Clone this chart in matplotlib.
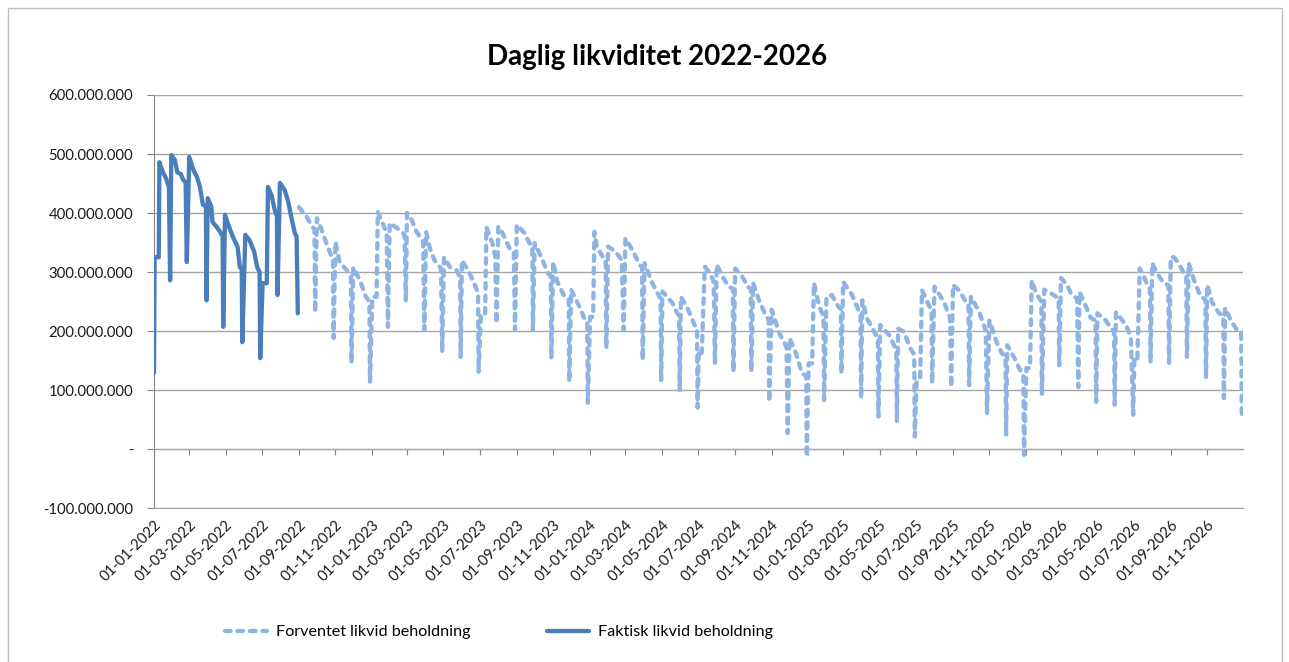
import numpy as np
import pandas as pd
import matplotlib

matplotlib.use("Agg")
import matplotlib.pyplot as plt
import matplotlib.dates as mdates
from matplotlib.ticker import FuncFormatter, MultipleLocator
from matplotlib.patches import Rectangle

plt.rcParams["font.family"] = ["Lato", "DejaVu Sans"]

# values in millions
faktisk = [
    ("2022-01-01", 129), ("2022-01-02", 325), ("2022-01-09", 325), ("2022-01-10", 486),
    ("2022-01-16", 469), ("2022-01-21", 459), ("2022-01-26", 444), ("2022-01-28", 286),
    ("2022-01-30", 498), ("2022-02-05", 490), ("2022-02-09", 469), ("2022-02-15", 466),
    ("2022-02-19", 456), ("2022-02-23", 452), ("2022-02-25", 317), ("2022-03-01", 495),
    ("2022-03-08", 473), ("2022-03-14", 461), ("2022-03-19", 444), ("2022-03-24", 414),
    ("2022-03-29", 411), ("2022-03-30", 252), ("2022-04-01", 425), ("2022-04-07", 411),
    ("2022-04-09", 385), ("2022-04-17", 375), ("2022-04-23", 366), ("2022-04-26", 360),
    ("2022-04-27", 207), ("2022-04-30", 397), ("2022-05-07", 376), ("2022-05-13", 360),
    ("2022-05-21", 343), ("2022-05-25", 308), ("2022-05-28", 305), ("2022-05-29", 181),
    ("2022-06-03", 363), ("2022-06-10", 354), ("2022-06-18", 334), ("2022-06-23", 308),
    ("2022-06-27", 300), ("2022-06-28", 154), ("2022-07-02", 281), ("2022-07-09", 281),
    ("2022-07-11", 444), ("2022-07-17", 430), ("2022-07-23", 402), ("2022-07-26", 395),
    ("2022-07-27", 261), ("2022-07-31", 451), ("2022-08-08", 439), ("2022-08-14", 419),
    ("2022-08-19", 393), ("2022-08-25", 366), ("2022-08-28", 360), ("2022-08-30", 230),
]

fc_2022 = [
    ("2022-09-01", 410), ("2022-09-14", 393), ("2022-09-24", 376), ("2022-09-27", 372),
    ("2022-09-28", 232), ("2022-10-01", 391), ("2022-10-09", 371), ("2022-10-18", 346),
    ("2022-10-26", 325), ("2022-10-28", 320), ("2022-10-29", 188), ("2022-11-01", 351),
    ("2022-11-08", 317), ("2022-11-20", 303), ("2022-11-27", 292), ("2022-11-28", 146),
    ("2022-12-01", 308), ("2022-12-12", 286), ("2022-12-22", 258), ("2022-12-28", 250),
    ("2022-12-29", 114),
]
fc_2023 = [
    ("2023-01-02", 258), ("2023-01-09", 258), ("2023-01-11", 402), ("2023-01-19", 383),
    ("2023-01-26", 366), ("2023-01-28", 207), ("2023-01-31", 383), ("2023-02-17", 371),
    ("2023-02-25", 363), ("2023-02-27", 252), ("2023-03-01", 400), ("2023-03-09", 388),
    ("2023-03-17", 368), ("2023-03-28", 352), ("2023-03-30", 202), ("2023-04-02", 368),
    ("2023-04-08", 341), ("2023-04-16", 320), ("2023-04-27", 306), ("2023-04-29", 164),
    ("2023-05-02", 325), ("2023-05-12", 308), ("2023-05-23", 303), ("2023-05-29", 290),
    ("2023-05-30", 156), ("2023-06-01", 320), ("2023-06-14", 298), ("2023-06-26", 270),
    ("2023-06-28", 265), ("2023-06-29", 131), ("2023-07-03", 230), ("2023-07-10", 230),
    ("2023-07-12", 376), ("2023-07-22", 349), ("2023-07-27", 326), ("2023-07-29", 213),
    ("2023-08-01", 377), ("2023-08-08", 366), ("2023-08-20", 340), ("2023-08-27", 335),
    ("2023-08-29", 202), ("2023-09-01", 380), ("2023-09-14", 366), ("2023-09-22", 349),
    ("2023-09-27", 345), ("2023-09-28", 202), ("2023-10-01", 349), ("2023-10-13", 323),
    ("2023-10-23", 298), ("2023-10-28", 294), ("2023-10-29", 154), ("2023-11-01", 317),
    ("2023-11-08", 283), ("2023-11-20", 258), ("2023-11-27", 254), ("2023-11-28", 114),
    ("2023-12-01", 270), ("2023-12-15", 241), ("2023-12-23", 222), ("2023-12-28", 218),
    ("2023-12-29", 78),
]
fc_2024 = [
    ("2024-01-02", 224), ("2024-01-07", 224), ("2024-01-09", 368), ("2024-01-13", 343),
    ("2024-01-23", 326), ("2024-01-28", 322), ("2024-01-29", 171), ("2024-02-01", 343),
    ("2024-02-14", 334), ("2024-02-24", 320), ("2024-02-27", 202), ("2024-03-01", 357),
    ("2024-03-13", 337), ("2024-03-25", 312), ("2024-03-29", 308), ("2024-03-30", 151),
    ("2024-04-02", 315), ("2024-04-15", 281), ("2024-04-27", 258), ("2024-04-29", 256),
    ("2024-04-30", 117), ("2024-05-02", 267), ("2024-05-19", 247), ("2024-05-27", 230),
    ("2024-05-30", 226), ("2024-05-31", 100), ("2024-06-02", 258), ("2024-06-13", 239),
    ("2024-06-25", 210), ("2024-06-29", 206), ("2024-06-30", 70), ("2024-07-02", 168),
    ("2024-07-07", 163), ("2024-07-12", 309), ("2024-07-21", 298), ("2024-07-27", 284),
    ("2024-07-29", 145), ("2024-08-01", 312), ("2024-08-11", 292), ("2024-08-21", 275),
    ("2024-08-28", 272), ("2024-08-29", 131), ("2024-09-01", 306), ("2024-09-13", 292),
    ("2024-09-22", 275), ("2024-09-27", 272), ("2024-09-28", 131), ("2024-10-01", 281),
    ("2024-10-11", 252), ("2024-10-23", 224), ("2024-10-27", 220), ("2024-10-28", 80),
    ("2024-11-01", 236), ("2024-11-14", 196), ("2024-11-26", 173), ("2024-11-28", 27),
    ("2024-12-01", 188), ("2024-12-12", 162), ("2024-12-22", 128), ("2024-12-29", 124),
    ("2024-12-30", -13),
]
fc_2025 = [
    ("2025-01-02", 145), ("2025-01-08", 145), ("2025-01-11", 281), ("2025-01-20", 241),
    ("2025-01-27", 225), ("2025-01-28", 83), ("2025-02-01", 258), ("2025-02-10", 261),
    ("2025-02-21", 241), ("2025-02-25", 238), ("2025-02-26", 128), ("2025-03-01", 283),
    ("2025-03-16", 261), ("2025-03-28", 232), ("2025-03-30", 228), ("2025-03-31", 86),
    ("2025-04-02", 252), ("2025-04-10", 221), ("2025-04-25", 193), ("2025-04-28", 190),
    ("2025-04-29", 55), ("2025-05-02", 210), ("2025-05-17", 193), ("2025-05-29", 168),
    ("2025-05-30", 46), ("2025-06-01", 204), ("2025-06-11", 199), ("2025-06-20", 173),
    ("2025-06-28", 160), ("2025-06-29", 21), ("2025-07-02", 117), ("2025-07-08", 122),
    ("2025-07-11", 269), ("2025-07-20", 249), ("2025-07-27", 235), ("2025-07-28", 111),
    ("2025-08-01", 275), ("2025-08-17", 249), ("2025-08-27", 222), ("2025-08-29", 105),
    ("2025-09-01", 278), ("2025-09-11", 269), ("2025-09-23", 249), ("2025-09-27", 246),
    ("2025-09-28", 108), ("2025-10-01", 258), ("2025-10-15", 232), ("2025-10-26", 201),
    ("2025-10-28", 61), ("2025-11-01", 218), ("2025-11-12", 184), ("2025-11-22", 162),
    ("2025-11-28", 158), ("2025-11-29", 24), ("2025-12-01", 176), ("2025-12-12", 156),
    ("2025-12-24", 131), ("2025-12-28", 128), ("2025-12-29", -10),
]
fc_2026 = [
    ("2026-01-02", 137), ("2026-01-08", 137), ("2026-01-11", 286), ("2026-01-18", 264),
    ("2026-01-27", 250), ("2026-01-28", 92), ("2026-02-01", 270), ("2026-02-17", 261),
    ("2026-02-25", 255), ("2026-02-26", 142), ("2026-03-01", 290), ("2026-03-11", 278),
    ("2026-03-19", 261), ("2026-03-28", 255), ("2026-03-30", 105), ("2026-04-01", 266),
    ("2026-04-12", 241), ("2026-04-20", 222), ("2026-04-28", 218), ("2026-04-29", 80),
    ("2026-05-01", 230), ("2026-05-15", 218), ("2026-05-24", 204), ("2026-05-29", 200),
    ("2026-05-30", 75), ("2026-06-01", 232), ("2026-06-18", 210), ("2026-06-26", 190),
    ("2026-06-30", 58), ("2026-07-02", 156), ("2026-07-07", 153), ("2026-07-11", 306),
    ("2026-07-18", 292), ("2026-07-23", 280), ("2026-07-28", 275), ("2026-07-29", 147),
    ("2026-08-01", 315), ("2026-08-09", 298), ("2026-08-20", 281), ("2026-08-28", 278),
    ("2026-08-29", 146), ("2026-09-01", 325), ("2026-09-06", 325), ("2026-09-14", 315),
    ("2026-09-23", 298), ("2026-09-27", 295), ("2026-09-28", 156), ("2026-10-01", 315),
    ("2026-10-10", 286), ("2026-10-21", 258), ("2026-10-29", 254), ("2026-10-30", 122),
    ("2026-11-01", 278), ("2026-11-09", 249), ("2026-11-21", 230), ("2026-11-28", 226),
    ("2026-11-29", 86), ("2026-12-01", 239), ("2026-12-12", 215), ("2026-12-21", 202),
    ("2026-12-28", 198), ("2026-12-29", 58),
]

title = "Daglig likviditet 2022-2026"
label_fc = "Forventet likvid beholdning"
label_fak = "Faktisk likvid beholdning"

c_fc = "#8EB4E3"
c_fak = "#4A7EBB"
c_grid = "#A6A6A6"


def to_series(pairs):
    d = pd.to_datetime([p[0] for p in pairs])
    v = np.array([p[1] for p in pairs], dtype=float) * 1e6
    return d, v


fc_d, fc_v = to_series(fc_2022 + fc_2023 + fc_2024 + fc_2025 + fc_2026)
fak_d, fak_v = to_series(faktisk)

fig = plt.figure(figsize=(12.89, 6.62), dpi=100)
ax = fig.add_axes([154 / 1289, 1 - 508 / 662, (1243 - 154) / 1289, (508 - 95) / 662])

ax.plot(fc_d, fc_v, color=c_fc, lw=3.1, dashes=(1.3, 1.6), dash_capstyle="round",
        solid_joinstyle="round", label=label_fc, zorder=3)
ax.plot(fak_d, fak_v, color=c_fak, lw=3.1, solid_joinstyle="round",
        solid_capstyle="round", label=label_fak, zorder=4)

ax.set_ylim(-100e6, 600e6)
ax.set_xlim(pd.Timestamp("2022-01-01"), pd.Timestamp("2026-12-31"))
ax.yaxis.set_major_locator(MultipleLocator(100e6))


def fmt_y(v, pos):
    if abs(v) < 1:
        return "-"
    return f"{v:,.0f}".replace(",", ".")


ax.yaxis.set_major_formatter(FuncFormatter(fmt_y))
ax.grid(axis="y", color=c_grid, lw=1)
ax.set_axisbelow(True)
for s in ["top", "right"]:
    ax.spines[s].set_visible(False)
ax.spines["left"].set_color("#868686")
ax.spines["bottom"].set_color(c_grid)
ax.tick_params(axis="y", direction="out", length=5, color="#868686",
               labelsize=10.7, pad=10, labelcolor="#1a1a1a")

ax.xaxis.set_major_locator(mdates.MonthLocator(bymonth=[1, 3, 5, 7, 9, 11]))
ax.xaxis.set_major_formatter(mdates.DateFormatter("%d-%m-%Y"))
ax.tick_params(axis="x", length=0, labelsize=10.7, pad=7, labelcolor="#1a1a1a")
for lab in ax.get_xticklabels():
    lab.set_rotation(45)
    lab.set_ha("right")
    lab.set_rotation_mode("anchor")

# category axis crosses at zero with its own tick marks
sec = ax.secondary_xaxis(1 / 7)
sec.xaxis.set_major_locator(mdates.MonthLocator(bymonth=[1, 3, 5, 7, 9, 11]))
sec.tick_params(axis="x", direction="out", length=4, color="#868686", labelbottom=False)
sec.spines["bottom"].set_color("#868686")

fig.text(657 / 1289, 1 - 57 / 662, title, ha="center", va="center",
         fontsize=20, fontweight="bold", color="black")

fig.legend(loc="center", bbox_to_anchor=(499 / 1289, 1 - 632 / 662), ncol=2,
           frameon=False, fontsize=11.6, handlelength=2.6, columnspacing=4.8,
           handletextpad=0.55)

fig.patches.append(Rectangle((8 / 1289, -0.01), (1282 - 8) / 1289, 1 - 8 / 662 + 0.01,
                             transform=fig.transFigure, fill=False,
                             edgecolor="#BFBFBF", lw=1))

fig.savefig("out.png", dpi=100)
